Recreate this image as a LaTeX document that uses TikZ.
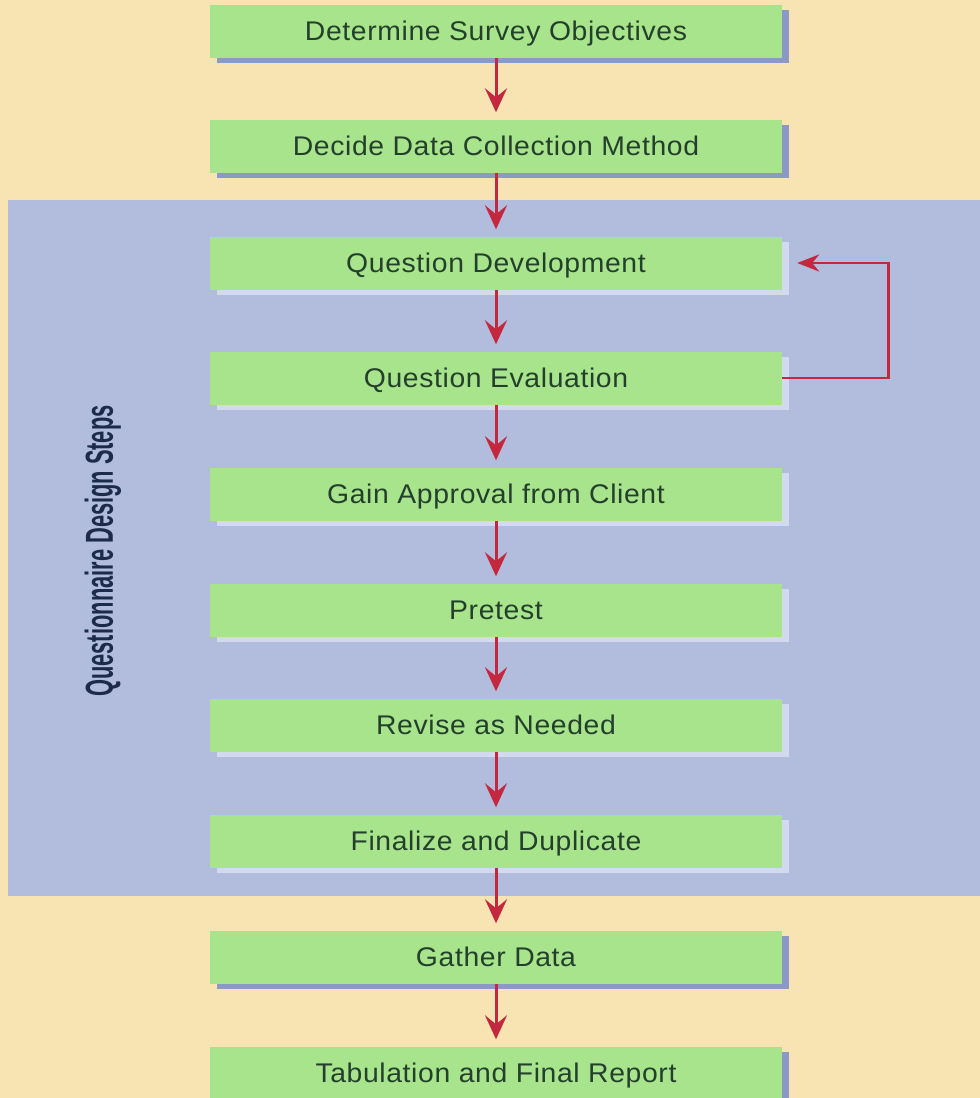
\documentclass[tikz,border=0pt]{standalone}
\usepackage{fontspec}
\setmainfont{Liberation Sans}
\newfontfamily\boxfont[FakeStretch=1.05,LetterSpace=2.3]{Liberation Sans}
\newfontfamily\condfont[FakeStretch=0.56]{Liberation Sans}
\usetikzlibrary{arrows.meta,shadows}
\definecolor{bgbeige}{HTML}{F8E3B2}
\definecolor{panelblue}{HTML}{B2BCDD}
\definecolor{boxgreen}{HTML}{A8E48C}
\definecolor{shadowout}{HTML}{8C98C6}
\definecolor{shadowin}{HTML}{D3DAEE}
\definecolor{arrowred}{HTML}{C4283F}
\definecolor{textdark}{HTML}{24402C}
\definecolor{labelnavy}{HTML}{1C2A4C}
\tikzset{
  stepbase/.style={rectangle, fill=boxgreen, minimum width=572pt, minimum height=53pt,
    inner sep=0pt, text height=19.3pt, text depth=0pt, text=textdark,
    font=\boxfont\fontsize{27}{30}\selectfont},
  stepout/.style={stepbase, general shadow={fill=shadowout, shadow xshift=7pt, shadow yshift=-5pt}},
  stepin/.style={stepbase, general shadow={fill=shadowin, shadow xshift=7pt, shadow yshift=-5pt}},
  flowarrow/.style={draw=arrowred, line width=3pt, shorten >=7pt,
    -{Stealth[length=24pt, width=22pt, inset=9pt]}},
  looparrow/.style={draw=arrowred, line width=2.8pt, shorten >=15pt,
    -{Stealth[length=22pt, width=17pt, inset=7pt]}},
  sidelabel/.style={rotate=90, text=labelnavy, font=\condfont\bfseries\fontsize{39}{42}\selectfont}
}
\begin{document}
\begin{tikzpicture}[x=1pt, y=-1pt]
\useasboundingbox (0,0) rectangle (980,1098);
\fill[bgbeige] (0,0) rectangle (980,1098);
\fill[panelblue] (8,200) rectangle (980,896);

\node[stepout] (b1) at (496,31) {Determine Survey Objectives};
\node[stepout] (b2) at (496,146) {Decide Data Collection Method};
\node[stepin] (b3) at (496,263) {Question Development};
\node[stepin] (b4) at (496,378) {Question Evaluation};
\node[stepin] (b5) at (496,494) {Gain Approval from Client};
\node[stepin] (b6) at (496,610) {Pretest};
\node[stepin] (b7) at (496,725) {Revise as Needed};
\node[stepin] (b8) at (496,841) {Finalize and Duplicate};
\node[stepout] (b9) at (496,957) {Gather Data};
\node[stepout] (b10) at (496,1073) {Tabulation and Final Report};

\node[sidelabel] (lbl) at (103,551) {Questionnaire Design Steps};

\draw[flowarrow] (b1.south) -- (b2.north);
\draw[flowarrow] (b2.south) -- (b3.north);
\draw[flowarrow] (b3.south) -- (b4.north);
\draw[flowarrow] (b4.south) -- (b5.north);
\draw[flowarrow] (b5.south) -- (b6.north);
\draw[flowarrow] (b6.south) -- (b7.north);
\draw[flowarrow] (b7.south) -- (b8.north);
\draw[flowarrow] (b8.south) -- (b9.north);
\draw[flowarrow] (b9.south) -- (b10.north);

\draw[looparrow] (b4.east) -- ++(106,0) |- (b3.east);
\end{tikzpicture}
\end{document}
